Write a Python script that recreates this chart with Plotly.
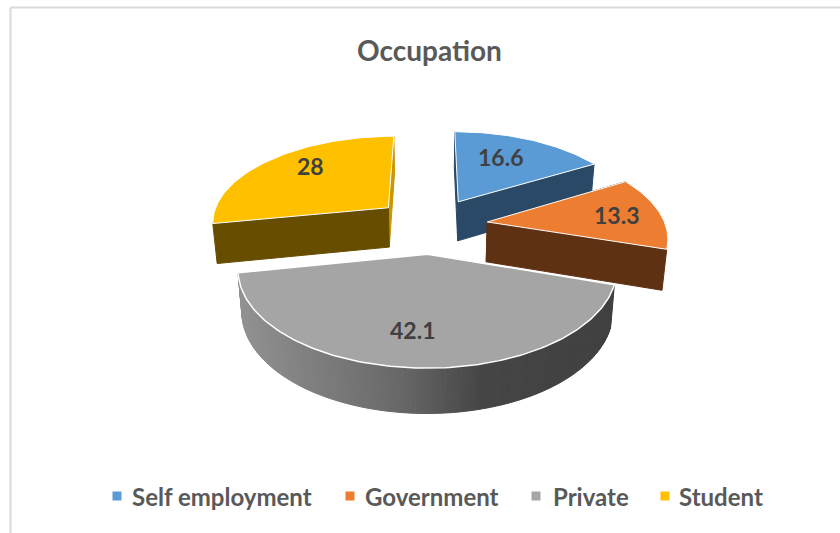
import numpy as np
import plotly.graph_objects as go

categories = ["Self employment", "Government", "Private", "Student"]
values = [16.6, 13.3, 42.1, 28]
top_colors = ["#5B9BD5", "#ED7D31", "#A5A5A5", "#FFC000"]
wall_colors = ["#2A4966", "#5F3113", "#666666", "#664D00"]
title_text = "Occupation"

# look of the tilted pie, in page pixels
CX, CY = 431, 225
RX, RY = 178, 87
TILT = 0.15
EXPLODE = 0.32
DEPTH = 40
FIRST_ANGLE = 0

label_pos = [(500, 157), (616, 215), (412, 330), (310, 166)]
legend_marks = [117, 350, 536, 665]
legend_text = [130, 363, 551, 677]
LEGEND_Y = 496


def project(theta, r, mid, explode, bottom=False):
    u = explode * np.sin(mid) + r * np.sin(theta)
    v = explode * np.cos(mid) + r * np.cos(theta)
    w = 1 + TILT * v
    x = RX * u / w
    y = -RY * v / w
    if bottom:
        x = x * 0.98
        y = y + DEPTH / (1 + 0.09 * v)
    return CX + x, CY + y


def edge_face(theta, mid, explode):
    xa, ya = project(theta, 0, mid, explode)
    xb, yb = project(theta, 1, mid, explode)
    xc, yc = project(theta, 1, mid, explode, True)
    xd, yd = project(theta, 0, mid, explode, True)
    return [xa, xb, xc, xd, xa], [ya, yb, yc, yd, ya]


def poly(fig, xs, ys, color, line_color=None, line_width=1):
    fig.add_scatter(x=xs, y=ys, mode="lines", fill="toself", fillcolor=color,
                    line=dict(color=line_color or color, width=line_width),
                    hoverinfo="skip", showlegend=False)


fig = go.Figure()

total = sum(values)
stops = np.cumsum([0] + values) / total * 2 * np.pi + np.radians(FIRST_ANGLE)
slices = [(stops[i], stops[i + 1], (stops[i] + stops[i + 1]) / 2) for i in range(4)]

# student, self, government, then private in front
for i in [3, 0, 1]:
    a, b, mid = slices[i]
    if i == 3:
        xs, ys = edge_face(b, mid, EXPLODE)
        poly(fig, xs, ys, "#C99700")
        xs, ys = edge_face(a, mid, EXPLODE)
        poly(fig, xs, ys, wall_colors[i])
    else:
        xs, ys = edge_face(a, mid, EXPLODE)
        poly(fig, xs, ys, wall_colors[i])
        xs, ys = edge_face(b, mid, EXPLODE)
        poly(fig, xs, ys, wall_colors[i])
    arc = np.linspace(a, b, 60)
    x_top, y_top = project(arc, 1, mid, EXPLODE)
    x0, y0 = project(a, 0, mid, EXPLODE)
    poly(fig, [x0, *x_top, x0], [y0, *y_top, y0], top_colors[i], "white")

# private slice, round wall shaded from left to right
a, b, mid = slices[2]
arc = np.linspace(a, b, 140)
x_top, y_top = project(arc, 1, mid, EXPLODE)
x_bot, y_bot = project(arc, 1, mid, EXPLODE, True)
for j in range(len(arc) - 1):
    grey = int(np.interp((x_top[j] + x_top[j + 1]) / 2, [238, 400, 480, 613], [146, 104, 70, 64]))
    poly(fig, [x_top[j], x_top[j + 1], x_bot[j + 1], x_bot[j], x_top[j]],
         [y_top[j], y_top[j + 1], y_bot[j + 1], y_bot[j], y_top[j]],
         f"rgb({grey},{grey},{grey})")
x0, y0 = project(a, 0, mid, EXPLODE)
poly(fig, [x0, *x_top, x0], [y0, *y_top, y0], top_colors[2], "white", 1.5)

for val, (lx, ly) in zip(values, label_pos):
    fig.add_annotation(x=lx, y=ly, text=f"<b>{val}</b>", showarrow=False,
                       font=dict(family="Lato", size=23, color="#404040"))

for name, color, mx, tx in zip(categories, top_colors, legend_marks, legend_text):
    fig.add_scatter(x=[mx], y=[LEGEND_Y], mode="markers", hoverinfo="skip", showlegend=False,
                    marker=dict(symbol="square", size=9, color=color))
    fig.add_annotation(x=tx, y=LEGEND_Y, text=f"<b>{name}</b>", showarrow=False, xanchor="left",
                       font=dict(family="Lato", size=24, color="#595959"))

fig.add_annotation(x=429, y=50, text=f"<b>{title_text}</b>", showarrow=False,
                   font=dict(family="Lato", size=28, color="#595959"))

# chart frame, cut off by the screenshot on the right and bottom
fig.add_shape(type="line", x0=10.5, x1=10.5, y0=7.5, y1=533, line=dict(color="#D9D9D9", width=2))
fig.add_shape(type="line", x0=10.5, x1=840, y0=7.5, y1=7.5, line=dict(color="#D9D9D9", width=2))

fig.update_xaxes(range=[0, 840], visible=False)
fig.update_yaxes(range=[533, 0], visible=False)
fig.update_layout(width=840, height=533, margin=dict(l=0, r=0, t=0, b=0),
                  plot_bgcolor="white", paper_bgcolor="white", showlegend=False)

fig.write_html("out.html", config=dict(displayModeBar=False),
               post_script="document.body.style.margin='0';document.body.style.overflow='hidden';")
